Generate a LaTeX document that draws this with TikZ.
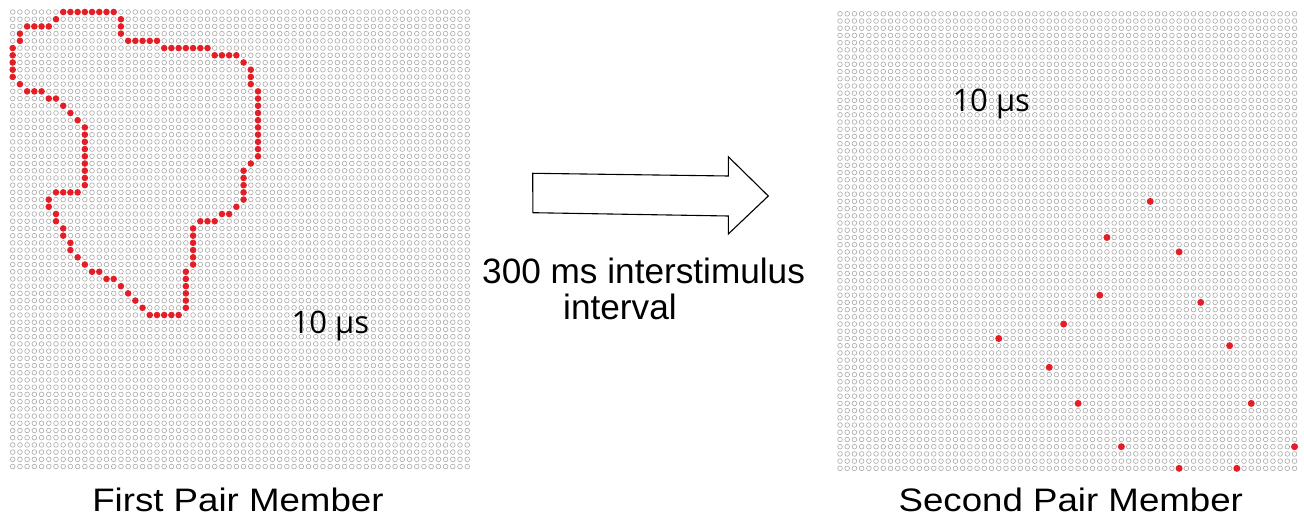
\documentclass[tikz,border=0pt]{standalone}
\usepackage{fontspec}
\usepackage{graphicx}
\setmainfont{Liberation Sans}
\newfontfamily\labfont{Open Sans}
\definecolor{dotred}{RGB}{228,30,38}
\definecolor{ringgray}{RGB}{170,170,170}
\tikzset{
  ring/.style={draw=ringgray, line width=0.6pt},
  reddot/.style={fill=dotred, draw=none},
  bigarrow/.style={draw=black, fill=white, line width=1.1pt, line join=miter},
  caption/.style={inner sep=0pt, anchor=base, font=\fontsize{32.5}{36}\selectfont},
  midtext/.style={inner sep=0pt, anchor=base west, font=\fontsize{35.2}{36}\selectfont},
  timelab/.style={inner sep=0pt, anchor=base west, font=\labfont\fontsize{31}{34}\selectfont},
}
\begin{document}
\begin{tikzpicture}[x=1pt, y=-1pt]
\useasboundingbox (0,0) rectangle (1304,521);
\fill[white] (0,0) rectangle (1304,521);
% left grid
\begin{scope}[shift={(12.7,12.0)}]
  \foreach \i in {0,...,63}{\draw[ring] \foreach \j in {0,...,63}{(\i*7.215,\j*7.215) circle[radius=2.35]};}
  \foreach \r/\a/\b in {0/7/14, 1/6/6, 1/15/15, 2/2/5, 2/15/15, 3/1/1, 3/15/15, 4/1/1, 4/16/20, 5/0/0, 5/21/27, 6/0/0, 6/28/31, 7/0/0, 7/32/32, 8/0/0, 8/33/33, 9/0/0, 9/33/33, 10/1/1, 10/33/33, 11/2/4, 11/34/34, 12/5/6, 12/34/34, 13/7/7, 13/34/34, 14/8/8, 14/34/34, 15/9/9, 15/34/34, 16/10/10, 16/34/34, 17/10/10, 17/34/34, 18/10/10, 18/34/34, 19/10/10, 19/34/34, 20/10/10, 20/34/34, 21/10/10, 21/33/33, 22/10/10, 22/32/32, 23/10/10, 23/32/32, 24/10/10, 24/32/32, 25/6/9, 25/32/32, 26/5/5, 26/32/32, 27/5/5, 27/31/31, 28/6/6, 28/29/30, 29/6/6, 29/26/28, 30/7/7, 30/25/25, 31/7/7, 31/25/25, 32/8/8, 32/25/25, 33/8/8, 33/25/25, 34/9/9, 34/25/25, 35/10/10, 35/25/25, 36/11/12, 36/24/24, 37/13/14, 37/24/24, 38/15/15, 38/24/24, 39/16/16, 39/24/24, 40/17/17, 40/24/24, 41/18/18, 41/24/24, 42/19/23}{\fill[reddot] \foreach \c in {\a,...,\b}{(\c*7.215,\r*7.215) circle[radius=3.3]};}
\end{scope}
% right grid
\begin{scope}[shift={(840,13.8)}]
  \foreach \i in {0,...,63}{\draw[ring] \foreach \j in {0,...,63}{(\i*7.215,\j*7.215) circle[radius=2.35]};}
  \foreach \c/\r in {43/26, 37/31, 47/33, 36/39, 50/40, 31/43, 22/45, 54/46, 29/49, 33/54, 57/54, 39/60, 63/60, 47/63, 55/63}{\fill[reddot] (\c*7.215,\r*7.215) circle[radius=3.5];}
\end{scope}
% arrow
\draw[bigarrow] (532.7,173.3) -- (728.3,176) -- (728.3,156.7) -- (768.3,196) -- (728.3,234) -- (728.3,216) -- (532.9,212.7) -- cycle;
% texts
\node[midtext] (isi1) at (482,283.3) {300 ms interstimulus};
\node[midtext] (isi2) at (563,319.3) {interval};
\node[caption] (cap1) at (237.9,511) {\scalebox{1.128}[1]{First Pair Member}};
\node[caption] (cap2) at (1070.8,511.5) {\scalebox{1.128}[1]{Second Pair Member}};
\node[timelab] (t1) at (291.5,334) {10 μs};
\node[timelab] (t2) at (952.3,111.7) {10 μs};
\end{tikzpicture}
\end{document}
